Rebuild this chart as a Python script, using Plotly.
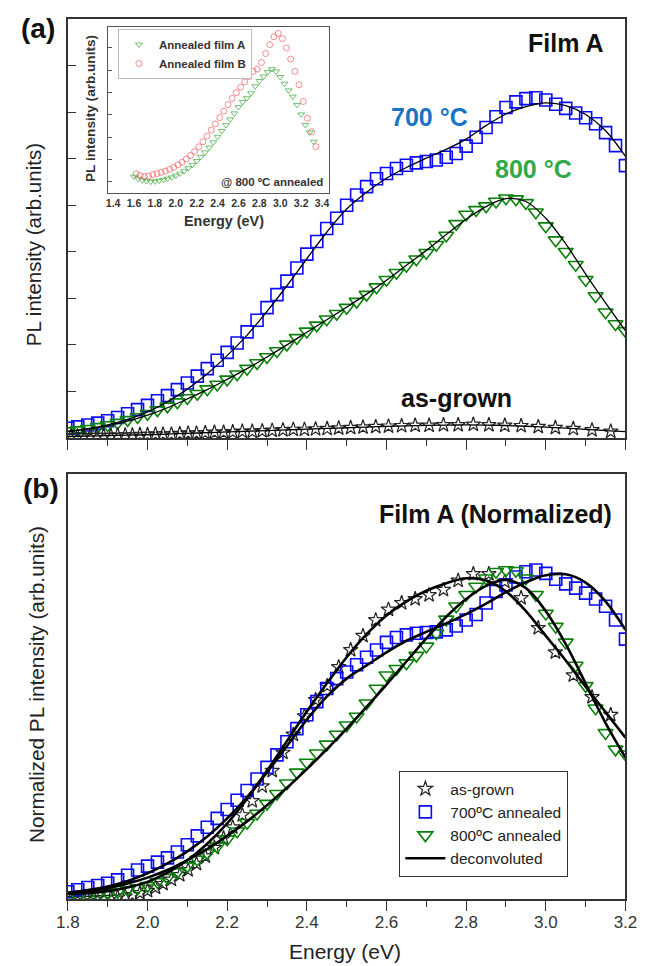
import plotly.graph_objects as go

# ---------------- data ----------------
# photon energy (eV) of the annealed-film spectra (700 and 800 C share the grid)
energy_annealed = [1.800, 1.825, 1.850, 1.875, 1.900, 1.925, 1.950, 1.975, 2.000, 2.025,
                   2.050, 2.075, 2.100, 2.125, 2.150, 2.175, 2.200, 2.225, 2.250, 2.275,
                   2.300, 2.325, 2.350, 2.375, 2.400, 2.425, 2.450, 2.475, 2.500, 2.525,
                   2.550, 2.575, 2.600, 2.625, 2.650, 2.675, 2.700, 2.725, 2.750, 2.775,
                   2.800, 2.825, 2.850, 2.875, 2.900, 2.925, 2.950, 2.975, 3.000, 3.025,
                   3.050, 3.075, 3.100, 3.125, 3.150, 3.175, 3.200]
# photon energy (eV) of the as-grown spectrum
energy_asgrown = [1.808, 1.824, 1.840, 1.856, 1.873, 1.890, 1.908, 1.925, 1.944, 1.962,
                  1.981, 2.000, 2.020, 2.039, 2.060, 2.081, 2.102, 2.123, 2.145, 2.168,
                  2.191, 2.214, 2.238, 2.263, 2.288, 2.313, 2.340, 2.366, 2.394, 2.422,
                  2.451, 2.480, 2.510, 2.541, 2.573, 2.605, 2.638, 2.672, 2.707, 2.743,
                  2.780, 2.818, 2.857, 2.897, 2.938, 2.981, 3.024, 3.069, 3.116, 3.163]
# energy grid of the deconvoluted (fitted) curves
energy_fit = [1.80, 1.85, 1.90, 1.95, 2.00, 2.05, 2.10, 2.15, 2.20, 2.25,
              2.30, 2.35, 2.40, 2.45, 2.50, 2.55, 2.60, 2.65, 2.70, 2.75,
              2.80, 2.85, 2.90, 2.95, 3.00, 3.05, 3.10, 3.15, 3.20]

# (a) raw PL intensity, arb. units
pl_700 = [0.21, 0.24, 0.28, 0.32, 0.37, 0.44, 0.52, 0.61, 0.70, 0.80,
          0.91, 1.04, 1.18, 1.33, 1.49, 1.67, 1.84, 2.04, 2.28, 2.53,
          2.80, 3.08, 3.37, 3.65, 3.95, 4.22, 4.50, 4.72, 5.00, 5.22,
          5.40, 5.57, 5.68, 5.79, 5.86, 5.91, 5.94, 5.97, 6.03, 6.11,
          6.27, 6.46, 6.67, 6.90, 7.10, 7.22, 7.29, 7.31, 7.26, 7.17,
          7.08, 6.98, 6.88, 6.75, 6.56, 6.28, 5.85]
pl_800 = [0.15, 0.17, 0.20, 0.24, 0.28, 0.33, 0.39, 0.45, 0.52, 0.60,
          0.68, 0.77, 0.86, 0.95, 1.05, 1.15, 1.26, 1.37, 1.49, 1.61,
          1.74, 1.87, 2.01, 2.15, 2.29, 2.42, 2.55, 2.67, 2.80, 2.93,
          3.08, 3.24, 3.40, 3.55, 3.70, 3.84, 3.98, 4.15, 4.35, 4.60,
          4.80, 4.90, 4.98, 5.08, 5.15, 5.13, 5.05, 4.85, 4.55, 4.25,
          4.00, 3.72, 3.40, 3.05, 2.70, 2.45, 2.30]
pl_asgrown = [0.04, 0.04, 0.04, 0.05, 0.05, 0.05, 0.05, 0.06, 0.06, 0.06,
              0.07, 0.07, 0.08, 0.08, 0.08, 0.09, 0.10, 0.10, 0.11, 0.12,
              0.12, 0.13, 0.14, 0.14, 0.15, 0.16, 0.17, 0.18, 0.18, 0.19,
              0.20, 0.21, 0.22, 0.23, 0.24, 0.25, 0.26, 0.27, 0.27, 0.28,
              0.28, 0.29, 0.28, 0.27, 0.26, 0.24, 0.22, 0.20, 0.17, 0.14]
fit_700 = [0.14, 0.20, 0.28, 0.40, 0.56, 0.78, 1.05, 1.38, 1.77, 2.21,
           2.72, 3.27, 3.85, 4.42, 4.92, 5.28, 5.58, 5.81, 6.01, 6.20,
           6.42, 6.71, 6.96, 7.12, 7.20, 7.14, 6.95, 6.60, 6.05]
fit_800 = [0.14, 0.19, 0.26, 0.36, 0.49, 0.65, 0.84, 1.04, 1.26, 1.49,
           1.74, 2.00, 2.27, 2.54, 2.81, 3.09, 3.39, 3.71, 4.03, 4.37,
           4.70, 4.97, 5.14, 5.08, 4.72, 4.17, 3.52, 2.90, 2.30]
fit_asgrown = [0.03, 0.04, 0.05, 0.06, 0.07, 0.085, 0.10, 0.115, 0.13, 0.145,
               0.16, 0.175, 0.19, 0.205, 0.22, 0.235, 0.25, 0.262, 0.272, 0.278,
               0.28, 0.277, 0.268, 0.252, 0.232, 0.21, 0.185, 0.16, 0.135]

# (b) normalized PL intensity
norm_700 = [0.022, 0.028, 0.035, 0.041, 0.048, 0.058, 0.072, 0.088, 0.100, 0.112,
            0.125, 0.143, 0.165, 0.192, 0.218, 0.245, 0.272, 0.300, 0.330, 0.365,
            0.400, 0.438, 0.478, 0.518, 0.560, 0.600, 0.640, 0.670, 0.690, 0.712,
            0.735, 0.757, 0.780, 0.795, 0.803, 0.808, 0.810, 0.812, 0.818, 0.830,
            0.848, 0.865, 0.900, 0.935, 0.955, 0.979, 0.995, 1.000, 0.990, 0.972,
            0.958, 0.945, 0.930, 0.912, 0.890, 0.848, 0.790]
norm_800 = [0.007, 0.009, 0.011, 0.014, 0.017, 0.022, 0.028, 0.033, 0.040, 0.052,
            0.065, 0.082, 0.100, 0.120, 0.140, 0.160, 0.182, 0.206, 0.232, 0.260,
            0.290, 0.320, 0.352, 0.385, 0.415, 0.443, 0.470, 0.500, 0.528, 0.555,
            0.595, 0.640, 0.680, 0.700, 0.717, 0.740, 0.768, 0.808, 0.850, 0.890,
            0.925, 0.950, 0.975, 0.995, 1.000, 0.998, 0.975, 0.925, 0.868, 0.828,
            0.780, 0.710, 0.648, 0.580, 0.505, 0.455, 0.440]
norm_asgrown = [0.000, 0.000, 0.001, 0.001, 0.002, 0.003, 0.004, 0.005, 0.008, 0.012,
                0.018, 0.025, 0.035, 0.046, 0.059, 0.073, 0.088, 0.107, 0.130, 0.156,
                0.185, 0.218, 0.255, 0.298, 0.343, 0.390, 0.445, 0.500, 0.556, 0.605,
                0.648, 0.705, 0.757, 0.800, 0.848, 0.880, 0.900, 0.912, 0.924, 0.940,
                0.968, 0.988, 0.988, 0.965, 0.915, 0.824, 0.750, 0.680, 0.614, 0.560]
norm_fit_700 = [0.019, 0.027, 0.038, 0.055, 0.078, 0.108, 0.145, 0.190, 0.245, 0.310,
                0.385, 0.465, 0.545, 0.615, 0.670, 0.710, 0.750, 0.785, 0.812, 0.838,
                0.866, 0.898, 0.933, 0.963, 0.984, 0.987, 0.962, 0.905, 0.818]
norm_fit_800 = [0.019, 0.025, 0.033, 0.047, 0.065, 0.088, 0.118, 0.152, 0.192, 0.236,
                0.285, 0.338, 0.395, 0.455, 0.518, 0.584, 0.652, 0.722, 0.792, 0.858,
                0.912, 0.952, 0.970, 0.945, 0.875, 0.775, 0.655, 0.535, 0.430]
norm_fit_asgrown = [0.015, 0.018, 0.024, 0.035, 0.052, 0.080, 0.118, 0.168, 0.230, 0.305,
                    0.390, 0.480, 0.570, 0.655, 0.735, 0.805, 0.862, 0.905, 0.937, 0.960,
                    0.975, 0.968, 0.935, 0.875, 0.800, 0.725, 0.645, 0.568, 0.490]

# inset: films A and B after 800 C annealing
energy_film_a = [1.60, 1.64, 1.68, 1.72, 1.76, 1.80, 1.84, 1.88, 1.92, 1.96,
                 2.00, 2.04, 2.08, 2.12, 2.16, 2.20, 2.24, 2.28, 2.32, 2.36,
                 2.40, 2.44, 2.48, 2.52, 2.56, 2.60, 2.64, 2.68, 2.72, 2.76,
                 2.80, 2.84, 2.88, 2.92, 2.96, 3.00, 3.04, 3.08, 3.12, 3.16,
                 3.20, 3.24, 3.28, 3.32]
pl_film_a = [0.73, 0.64, 0.57, 0.53, 0.51, 0.52, 0.55, 0.59, 0.64, 0.70,
             0.78, 0.87, 0.98, 1.11, 1.26, 1.43, 1.62, 1.82, 2.04, 2.27,
             2.52, 2.78, 3.04, 3.30, 3.57, 3.85, 4.08, 4.25, 4.47, 4.78,
             5.02, 5.22, 5.42, 5.55, 5.45, 5.20, 4.90, 4.60, 4.32, 3.95,
             3.52, 3.05, 2.72, 2.30]
energy_film_b = [1.62, 1.66, 1.70, 1.74, 1.78, 1.82, 1.86, 1.90, 1.94, 1.98,
                 2.02, 2.06, 2.10, 2.14, 2.18, 2.22, 2.26, 2.30, 2.34, 2.38,
                 2.42, 2.46, 2.50, 2.54, 2.58, 2.62, 2.66, 2.70, 2.74, 2.78,
                 2.82, 2.86, 2.90, 2.94, 2.98, 3.02, 3.06, 3.10, 3.14, 3.18,
                 3.22, 3.26, 3.30, 3.34]
pl_film_b = [0.86, 0.78, 0.74, 0.76, 0.82, 0.87, 0.92, 0.98, 1.06, 1.15,
             1.26, 1.38, 1.52, 1.68, 1.86, 2.07, 2.30, 2.55, 2.82, 3.10,
             3.38, 3.67, 3.96, 4.24, 4.50, 4.74, 4.98, 5.22, 5.45, 5.55,
             5.85, 6.25, 6.65, 7.00, 7.15, 6.92, 6.50, 6.00, 5.45, 4.85,
             4.10, 3.35, 2.75, 2.08]

energy_ticks = [1.8, 2.0, 2.2, 2.4, 2.6, 2.8, 3.0, 3.2]
inset_ticks = [1.4, 1.6, 1.8, 2.0, 2.2, 2.4, 2.6, 2.8, 3.0, 3.2, 3.4]

# ---------------- styling ----------------
W, H = 650, 966
FONT = "Liberation Sans, Arial, sans-serif"
BLUE = "rgb(10,10,250)"
GREEN = "rgb(10,130,10)"
AXIS = "#333333"


def fx(p):
    return p / W


def fy(p):
    return 1 - p / H


fig = go.Figure()

# ---- panel (a): raw spectra ----
fig.add_trace(go.Scatter(x=energy_annealed, y=pl_700, mode="markers", xaxis="x", yaxis="y",
                         marker=dict(symbol="square-open", size=12, color=BLUE, line=dict(width=1.6)),
                         showlegend=False))
fig.add_trace(go.Scatter(x=energy_annealed, y=pl_800, mode="markers", xaxis="x", yaxis="y",
                         marker=dict(symbol="triangle-down-open", size=13, color=GREEN, line=dict(width=1.6)),
                         showlegend=False))
fig.add_trace(go.Scatter(x=energy_asgrown, y=pl_asgrown, mode="markers", xaxis="x", yaxis="y",
                         marker=dict(symbol="star-open", size=11, color="#222222", line=dict(width=1.2)),
                         showlegend=False))
for fit in (fit_700, fit_800, fit_asgrown):
    fig.add_trace(go.Scatter(x=energy_fit, y=fit, mode="lines", xaxis="x", yaxis="y",
                             line=dict(color="black", width=1.3, shape="spline"), showlegend=False))

# ---- panel (b): normalized spectra ----
fig.add_trace(go.Scatter(x=energy_asgrown, y=norm_asgrown, mode="markers", xaxis="x2", yaxis="y2",
                         name="as-grown",
                         marker=dict(symbol="star-open", size=11, color="#222222", line=dict(width=1.2))))
fig.add_trace(go.Scatter(x=energy_annealed, y=norm_700, mode="markers", xaxis="x2", yaxis="y2",
                         name="700ºC annealed",
                         marker=dict(symbol="square-open", size=12, color=BLUE, line=dict(width=1.6))))
fig.add_trace(go.Scatter(x=energy_annealed, y=norm_800, mode="markers", xaxis="x2", yaxis="y2",
                         name="800ºC annealed",
                         marker=dict(symbol="triangle-down-open", size=13, color=GREEN, line=dict(width=1.6))))
for i, fit in enumerate((norm_fit_asgrown, norm_fit_700, norm_fit_800)):
    fig.add_trace(go.Scatter(x=energy_fit, y=fit, mode="lines", xaxis="x2", yaxis="y2",
                             name="deconvoluted", showlegend=(i == 0),
                             line=dict(color="black", width=2.6, shape="spline")))

# ---- inset ----
fig.add_trace(go.Scatter(x=energy_film_a, y=pl_film_a, mode="markers", xaxis="x4", yaxis="y4",
                         name="Annealed film A", legend="legend2",
                         marker=dict(symbol="triangle-down-open", size=6, color="rgba(40,160,40,0.65)",
                                     line=dict(width=1))))
fig.add_trace(go.Scatter(x=energy_film_b, y=pl_film_b, mode="markers", xaxis="x4", yaxis="y4",
                         name="Annealed film B", legend="legend2",
                         marker=dict(symbol="circle-open", size=6, color="rgba(240,70,70,0.6)",
                                     line=dict(width=1))))

frame = dict(showline=True, linecolor=AXIS, linewidth=1.6, mirror=True, showgrid=False, zeroline=False)
xdom = [fx(58), fx(637)]

layout = dict(
    width=W, height=H, autosize=False,
    margin=dict(l=0, r=0, t=0, b=0),
    paper_bgcolor="white", plot_bgcolor="white",
    font=dict(family=FONT, color="#222222"),
    xaxis=dict(domain=xdom, anchor="y", range=[1.8, 3.2], tickvals=energy_ticks,
               ticks="outside", ticklen=10, tickwidth=1.3, tickcolor=AXIS, showticklabels=False,
               minor=dict(dtick=0.1, tick0=1.8, ticks="outside", ticklen=6, tickwidth=1.2, tickcolor=AXIS),
               **frame),
    yaxis=dict(domain=[fy(438), fy(19)], anchor="x", range=[0, 9], dtick=1, tick0=0,
               ticks="inside", ticklen=8, tickwidth=1.2, tickcolor=AXIS, showticklabels=False, **frame),
    xaxis2=dict(domain=xdom, anchor="y2", range=[1.8, 3.2], tickvals=energy_ticks, tickformat=".1f",
                ticks="outside", ticklen=10, tickwidth=1.3, tickcolor=AXIS, ticklabelstandoff=-3,
                tickfont=dict(size=17, color="#333333"),
                minor=dict(dtick=0.1, tick0=1.8, ticks="outside", ticklen=6, tickwidth=1.2, tickcolor=AXIS),
                **frame),
    xaxis3=dict(overlaying="x2", side="top", anchor="y2", range=[1.8, 3.2], tickvals=energy_ticks,
                ticks="inside", ticklen=8, tickwidth=1.3, tickcolor=AXIS, showticklabels=False,
                showline=False, showgrid=False, zeroline=False,
                minor=dict(dtick=0.1, tick0=1.8, ticks="inside", ticklen=5, tickwidth=1.2, tickcolor=AXIS)),
    yaxis2=dict(domain=[fy(899), fy(474)], anchor="x2", range=[0, 1.292], ticks="",
                showticklabels=False, **frame),
    xaxis4=dict(domain=[fx(100), fx(329)], anchor="y4", range=[1.354, 3.465], tickvals=inset_ticks,
                tickformat=".1f", ticks="", tickfont=dict(size=10.5, weight="bold", color="#333333"),
                showline=True, linecolor="#555555", linewidth=1, mirror=True,
                showgrid=False, zeroline=False),
    yaxis4=dict(domain=[fy(193), fy(27)], anchor="x4", range=[0, 7.44], tick0=0.5, dtick=1,
                ticks="inside", ticklen=4, tickwidth=1, tickcolor="#555555", showticklabels=False,
                showline=True, linecolor="#555555", linewidth=1, mirror=True,
                showgrid=False, zeroline=False),
    legend=dict(x=fx(402), y=fy(771), xanchor="left", yanchor="top",
                bgcolor="white", bordercolor=AXIS, borderwidth=1.2,
                font=dict(size=15.5, color="#222222", family=FONT),
                tracegroupgap=0, itemwidth=40),
    legend2=dict(x=fx(110), y=fy(29), xanchor="left", yanchor="top",
                 bgcolor="white", bordercolor="#bbbbbb", borderwidth=1,
                 font=dict(size=11.5, weight="bold", color="#333333", family=FONT),
                 tracegroupgap=0, itemwidth=30),
)
fig.update_layout(**layout)

annotations = [
    dict(text="<b>(a)</b>", x=fx(27), y=fy(28), size=28, color="#111111"),
    dict(text="<b>(b)</b>", x=fx(30), y=fy(488), size=28, color="#111111"),
    dict(text="<b>Film A</b>", x=fx(575), y=fy(43), size=25, color="#111111"),
    dict(text="<b>700 °C</b>", x=fx(433), y=fy(117), size=25, color="#1874c4"),
    dict(text="<b>800 °C</b>", x=fx(542), y=fy(169), size=25, color="#2eaa4a"),
    dict(text="<b>as-grown</b>", x=fx(462), y=fy(398), size=25, color="#111111"),
    dict(text="<b>Film A (Normalized)</b>", x=fx(502), y=fy(514), size=25, color="#111111"),
    dict(text="<b>@ 800 ºC annealed</b>", x=fx(270), y=fy(182), size=11.5, color="#333333"),
    dict(text="<b>Energy (eV)</b>", x=fx(220), y=fy(221), size=14.4, color="#333333"),
    dict(text="Energy (eV)", x=fx(346), y=fy(951), size=21, color="#222222"),
]
for a in annotations:
    fig.add_annotation(text=a["text"], x=a["x"], y=a["y"], xref="paper", yref="paper",
                       xanchor="center", yanchor="middle", showarrow=False,
                       font=dict(family=FONT, size=a["size"], color=a["color"]))

# rotated axis titles
for text, x, y, size in [("PL intensity (arb.units)", 22, 245, 20.5),
                         ("Normalized PL intensity (arb.units)", 25, 685, 20.8),
                         ("<b>PL intensity (arb.units)</b>", 82, 108, 13.6)]:
    fig.add_annotation(text=text, x=fx(x), y=fy(y), xref="paper", yref="paper", textangle=-90,
                       xanchor="center", yanchor="middle", showarrow=False,
                       font=dict(family=FONT, size=size, color="#222222" if size > 15 else "#333333"))

fig.write_html("out.html")
